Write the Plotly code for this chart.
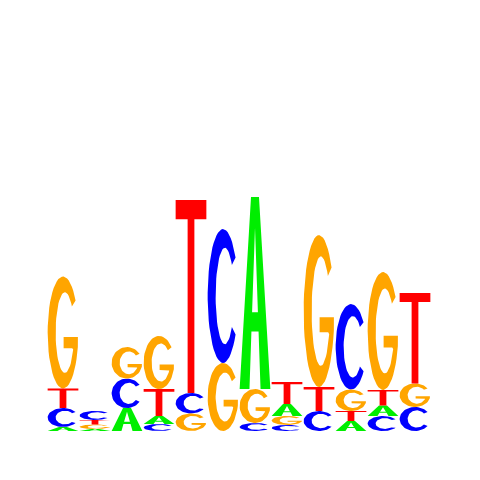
import numpy as np
import plotly.graph_objects as go

# logo columns (information content in bits, per base)
positions = list(range(1, 13))
height_A = [0.034, 0.017, 0.198, 0.069, 0.0, 0.0, 1.655, 0.103, 0.0, 0.086, 0.091, 0.0]
height_C = [0.164, 0.078, 0.254, 0.060, 0.177, 1.155, 0.069, 0.052, 0.172, 0.737, 0.129, 0.207]
height_G = [0.966, 0.039, 0.272, 0.457, 0.151, 0.586, 0.293, 0.078, 1.310, 0.185, 1.017, 0.203]
height_T = [0.168, 0.039, 0.0, 0.233, 1.664, 0.0, 0.0, 0.190, 0.207, 0.086, 0.134, 0.780]
# order of letters from bottom to top in each column
stack_order = ["ACTG", "AGTC", "ACG", "CATG", "GCT", "GC", "CGA", "CGAT", "CTG", "ATGC", "CATG", "CGT"]

colors = {"A": "#00ee00", "C": "#0000ff", "G": "#ffa500", "T": "#ff0000"}


def arc(cx, cy, rx, ry, a0, a1, n=48):
    t = np.radians(np.linspace(a0, a1, n))
    return list(zip(cx + rx * np.cos(t), cy + ry * np.sin(t)))


# unit glyphs in a 1x1 box
def glyph(letter):
    if letter == "A":
        return [(0, 0), (0.37, 1), (0.63, 1), (1, 0), (0.68, 0), (0.616, 0.3),
                (0.384, 0.3), (0.405, 0.4), (0.595, 0.4), (0.5, 0.84),
                (0.405, 0.4), (0.384, 0.3), (0.32, 0), (0, 0)]
    if letter == "T":
        return [(0, 1), (1, 1), (1, 0.9), (0.61, 0.9), (0.61, 0), (0.39, 0),
                (0.39, 0.9), (0, 0.9), (0, 1)]
    if letter == "C":
        pts = arc(0.5, 0.5, 0.5, 0.5, 35, 325)
        pts += arc(0.56, 0.5, 0.3, 0.36, 320, 40)
        return pts + [pts[0]]
    # G
    pts = arc(0.5, 0.5, 0.5, 0.5, 35, 345)
    pts += [(0.985, 0.46), (0.52, 0.46), (0.52, 0.36), (0.8, 0.36)]
    pts += arc(0.56, 0.5, 0.3, 0.36, 335, 40)
    return pts + [pts[0]]


heights = {"A": height_A, "C": height_C, "G": height_G, "T": height_T}
xs = {b: [] for b in "ACGT"}
ys = {b: [] for b in "ACGT"}
half = 0.48

for i, pos in enumerate(positions):
    base_y = 0.0
    for b in stack_order[i]:
        h = heights[b][i]
        if h <= 0:
            continue
        for gx, gy in glyph(b):
            xs[b].append(pos - half + 2 * half * gx)
            ys[b].append(base_y + h * gy)
        xs[b].append(None)
        ys[b].append(None)
        base_y += h

fig = go.Figure()
for b in "ACGT":
    fig.add_trace(go.Scatter(x=xs[b], y=ys[b], mode="lines", fill="toself",
                             fillcolor=colors[b], line=dict(width=0, color=colors[b]),
                             hoverinfo="skip", showlegend=False))

fig.update_layout(width=480, height=480, margin=dict(l=0, r=0, t=0, b=0),
                  plot_bgcolor="white", paper_bgcolor="white")
# page body adds an 8px offset, ranges compensate for it
fig.update_xaxes(range=[-0.71875, 14.28125], visible=False)
fig.update_yaxes(range=[-0.4914, 3.6466], visible=False)

fig.write_html("out.html")
